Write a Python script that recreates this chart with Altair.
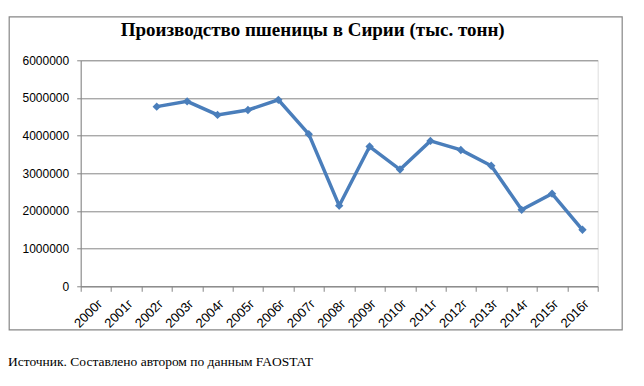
import altair as alt
import pandas as pd

years = [f"{y}г" for y in range(2000, 2017)]
values = [None, None, 4770000, 4910000, 4550000, 4680000, 4950000, 4040000,
          2140000, 3710000, 3100000, 3860000, 3620000, 3200000, 2030000,
          2460000, 1500000]
title_text = "Производство пшеницы в Сирии (тыс. тонн)"
source_text = "Источник. Составлено автором по данным FAOSTAT"
y_ticks = [0, 1000000, 2000000, 3000000, 4000000, 5000000, 6000000]

df = pd.DataFrame({"year": years, "value": values})
one = alt.Data(values=[{"a": 1}])

W, H = 517, 226
BLUE = "#4A7EBB"
GRAY = "#868686"
SERIF = "Times New Roman, Liberation Serif, serif"

x_enc = alt.X("year:N", sort=years,
              scale=alt.Scale(domain=years, paddingInner=0, paddingOuter=0),
              axis=alt.Axis(title=None, labelAngle=-45, labelAlign="right",
                            labelBaseline="middle", labelPadding=10, labelOffset=4,
                            tickBand="extent", tickSize=5, tickColor=GRAY,
                            domainColor=GRAY, labelFont="Liberation Sans",
                            labelFontSize=13, labelColor="#000", grid=False))
y_enc = alt.Y("value:Q", scale=alt.Scale(domain=[0, 6000000], nice=False),
              axis=alt.Axis(title=None, values=y_ticks, format="d",
                            tickSize=4, tickColor=GRAY, domainColor=GRAY,
                            gridColor=GRAY, gridOpacity=1, labelPadding=8,
                            labelFont="Liberation Sans", labelFontSize=12,
                            labelColor="#000"))

base = alt.Chart(df).transform_filter("datum.value != null")
line = base.mark_line(color=BLUE, strokeWidth=3.5).encode(x=x_enc, y=y_enc)
pts = base.mark_point(shape="diamond", filled=True, color=BLUE, size=70,
                      opacity=1).encode(x=x_enc, y=y_enc)
axes = alt.Chart(df).mark_point(opacity=0).encode(x=x_enc, y=y_enc)

frame = alt.Chart(one).mark_rect(fill="transparent", stroke=GRAY,
                                 strokeWidth=1.2).encode(
    x=alt.value(-71.5), x2=alt.value(541.5), y=alt.value(-43.5), y2=alt.value(269.5))
title = alt.Chart(one).mark_text(text=title_text, font=SERIF,
                                 fontSize=19, fontWeight="bold", color="#000",
                                 align="center", baseline="middle").encode(
    x=alt.value(232), y=alt.value(-30))
source = alt.Chart(one).mark_text(text=source_text, font=SERIF,
                                  fontSize=13.5, fontWeight="normal", color="#000",
                                  align="left", baseline="middle").encode(
    x=alt.value(-72.7), y=alt.value(302))

chart = alt.layer(frame, axes, line, pts, title, source).properties(
    width=W, height=H,
    autosize=alt.AutoSizeParams(type="none"),
    padding={"left": 72.7, "top": 52.3, "right": 38, "bottom": 92},
).configure_view(stroke=None).configure(background="white")

chart.save("out.html", embed_options={"renderer": "svg", "actions": False})
